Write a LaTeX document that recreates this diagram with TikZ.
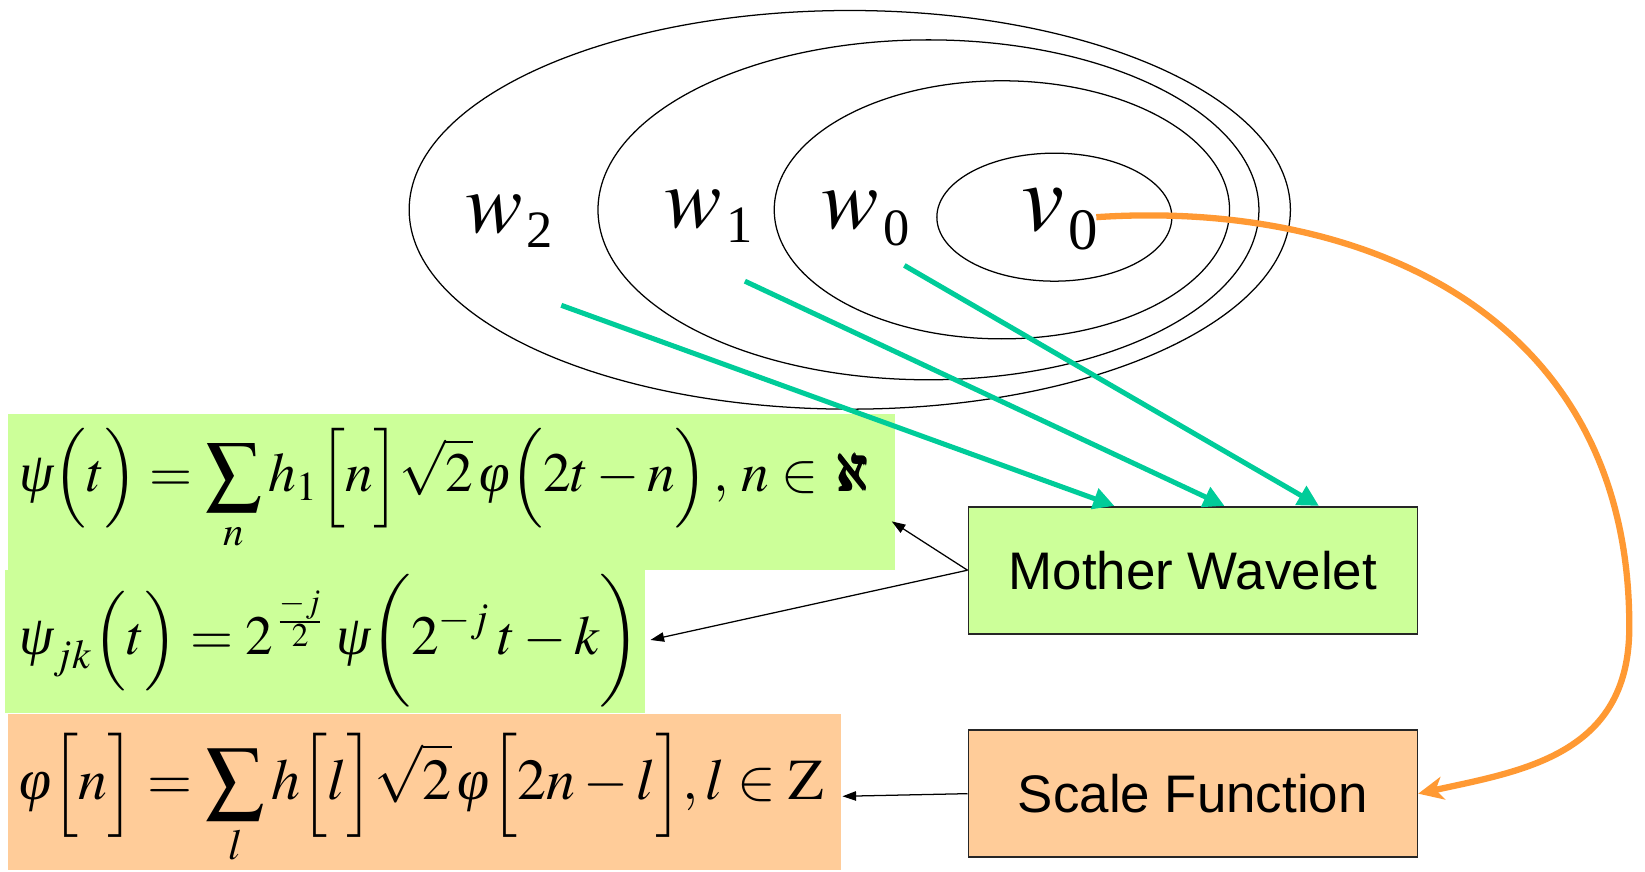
\documentclass[tikz,border=0pt]{standalone}
\usepackage{amsmath}
\usepackage{mathptmx}
\usepackage[no-math]{fontspec}
\setmainfont{Liberation Serif}
\newfontfamily\arialf{Liberation Sans}
\usetikzlibrary{arrows.meta,calc}
\definecolor{mwgreen}{HTML}{CCFF99}
\definecolor{sforange}{HTML}{FFCC99}
\definecolor{tealline}{HTML}{00CC99}
\definecolor{curveorange}{HTML}{FF9933}
\newcommand\gpsi{\text{\itshape ψ}}
\newcommand\gphi{\text{\itshape φ}}
\newcommand\spacelbl[5]{\fontsize{#3}{#3}\selectfont$#1$\kern2pt\raisebox{-#5}{\fontsize{#4}{#4}\selectfont\upshape #2}}
\begin{document}
\begin{tikzpicture}[x=0.5pt,y=-0.5pt,
  lbl/.style={anchor=base west, inner sep=0pt},
  boxnode/.style={draw=black!85, line width=0.8pt, minimum width=214pt, minimum height=60.5pt, font=\arialf\fontsize{25.2}{30}\selectfont, inner sep=0pt},
  bg/.style={anchor=north west, inner sep=0pt, outer sep=0pt},
  formula/.style={anchor=west, inner sep=0pt},
  tealarrow/.style={draw=tealline, line width=2.4pt, -{Triangle[length=10pt,width=10pt]}},
  thinarrow/.style={draw=black, line width=0.6pt, -{Triangle[length=6.5pt,width=4.5pt]}},
  orangecurve/.style={draw=curveorange, line width=3pt, -{Stealth[length=12pt,width=11pt,inset=3.5pt]}},
  ring/.style={draw=black, line width=0.6pt}
  ]
\useasboundingbox (0,0) rectangle (1568,831);

% formula backgrounds
\node[bg, fill=mwgreen, minimum width=305pt, minimum height=68.5pt] (f2bg) at (5,543) {};
\node[bg, fill=mwgreen, minimum width=422.5pt, minimum height=74pt] (f1bg) at (8,395) {};
\node[bg, fill=sforange, minimum width=397pt, minimum height=74pt] (f3bg) at (8,681) {};

% formulas
\node[formula] (f1) at (18,467) {\resizebox{408.5pt}{!}{$\displaystyle \gpsi\Big(t\Big) = \sum_{n} h_1\Big[n\Big]\sqrt{2}\,\gphi\Big(2t-n\Big)\,,\, n\in \pmb{\aleph}$}};
\node[formula] (f2) at (18,611) {\resizebox{296pt}{!}{$\displaystyle \gpsi_{jk}\Big(t\Big) = 2^{\frac{-j}{2}}\,\gpsi\bigg(2^{-j}\,t-k\bigg)$}};
\node[formula] (f3) at (18,762) {\resizebox{383.5pt}{!}{$\displaystyle \gphi\Big[n\Big] = \sum_{l} h\Big[l\Big]\sqrt{2}\,\gphi\Big[2n-l\Big], l\in \mathrm{Z}$}};

% nested spaces
\draw[ring] (810,200) ellipse [x radius=420, y radius=190];
\draw[ring] (885,200) ellipse [x radius=315, y radius=162];
\draw[ring] (955,200) ellipse [x radius=217, y radius=123];
\draw[ring] (1005,207) ellipse [x radius=112, y radius=61];

\node[lbl] (w2) at (443,222) {\spacelbl{w}{2}{41}{25}{7pt}};
\node[lbl] (w1) at (633,217) {\spacelbl{w}{1}{41}{25}{7pt}};
\node[lbl] (w0) at (783,218) {\spacelbl{w}{0}{41}{25}{8pt}};
\node[lbl] (v0) at (973,220) {\spacelbl{v}{0}{46}{28}{9pt}};

% boxes
\node[boxnode, fill=mwgreen] (mw) at (1137,543.5) {Mother Wavelet};
\node[boxnode, fill=sforange] (sf) at (1137,756.5) {Scale Function};

% teal arrows
\coordinate (ts2) at (535,291);
\coordinate (ts1) at (710,268);
\coordinate (ts0) at (862,253);
\draw[tealarrow] (ts2) -- ($(mw.north west)+(140,0)$);
\draw[tealarrow] (ts1) -- ($(mw.north west)+(245,0)$);
\draw[tealarrow] (ts0) -- ($(mw.north west)+(335,0)$);

% black arrows
\coordinate (e1) at (850,497);
\coordinate (e2) at (620,610);
\coordinate (e3) at (803,759);
\draw[thinarrow] (mw.west) -- (e1);
\draw[thinarrow] (mw.west) -- (e2);
\draw[thinarrow] (sf.west) -- (e3);

% orange curve
\coordinate (vs) at (1045,207);
\draw[orangecurve] (vs) .. controls (1300,190) and (1555,300) .. (1553,600) .. controls (1552,720) and (1450,735) .. (sf.east);
\end{tikzpicture}
\end{document}
